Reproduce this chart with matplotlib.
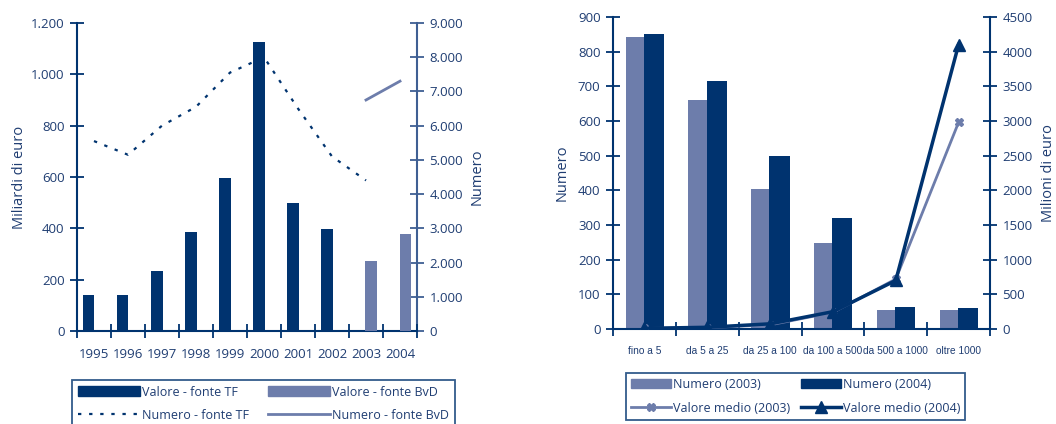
import matplotlib
matplotlib.use("Agg")
import matplotlib.pyplot as plt
from matplotlib import font_manager
from matplotlib.ticker import FuncFormatter, FixedLocator

# --- dati grafico di sinistra ---
anni = ["1995", "1996", "1997", "1998", "1999", "2000", "2001", "2002", "2003", "2004"]
valore_tf = [140, 139, 234, 387, 596, 1126, 498, 397, None, None]
valore_bvd = [None, None, None, None, None, None, None, None, 273, 378]
numero_tf = [5550, 5150, 6000, 6550, 7550, 8000, 6500, 5100, 4400, None]
numero_bvd = [None, None, None, None, None, None, None, None, 6750, 7300]

# --- dati grafico di destra ---
classi = ["fino a 5", "da 5 a 25", "da 25 a 100", "da 100 a 500", "da 500 a 1000", "oltre 1000"]
numero_2003 = [842, 660, 404, 248, 54, 56]
numero_2004 = [850, 716, 498, 320, 64, 60]
medio_2003 = [8, 20, 60, 240, 720, 2980]
medio_2004 = [10, 25, 75, 250, 700, 4100]

SCURO = "#00336F"
CHIARO = "#6D7DAB"
TESTO = "#1F3D72"

plt.rcParams["font.family"] = ["Open Sans", "DejaVu Sans"]
plt.rcParams["font.size"] = 9.5
plt.rcParams["text.color"] = TESTO
plt.rcParams["axes.labelcolor"] = TESTO
plt.rcParams["xtick.color"] = SCURO
plt.rcParams["ytick.color"] = SCURO
plt.rcParams["xtick.labelcolor"] = TESTO
plt.rcParams["ytick.labelcolor"] = TESTO

# etichette strette per le classi (se c'e' un font "narrow")
nomi = {f.name for f in font_manager.fontManager.ttflist}
if "Liberation Sans Narrow" in nomi:
    font_classi, size_classi = "Liberation Sans Narrow", 8.5
else:
    font_classi, size_classi = "Liberation Sans", 7.3

DASH = (0, (1.5, 3.5))


def punti(v):
    return f"{int(v):,}".replace(",", ".")


def assi_stile(ax, ax2, col_dx):
    for a in (ax, ax2):
        a.spines["top"].set_visible(False)
    ax.spines["right"].set_visible(False)
    ax2.spines["left"].set_visible(False)
    ax2.spines["bottom"].set_visible(False)
    ax.spines["left"].set_color(SCURO)
    ax.spines["bottom"].set_color(SCURO)
    ax2.spines["right"].set_color(col_dx)
    for s in ("left", "bottom"):
        ax.spines[s].set_linewidth(1.5)
    ax2.spines["right"].set_linewidth(1.5)
    ax.tick_params(axis="both", which="major", direction="inout", length=10, width=1.3)
    ax2.tick_params(axis="y", direction="inout", length=10, width=1.3, color=col_dx)


fig = plt.figure(figsize=(10.56, 4.24), dpi=100)

# ---------- grafico di sinistra ----------
ax = fig.add_axes([0.0729, 0.2193, 0.3220, 0.7265])
ax2 = ax.twinx()
ax.set_zorder(ax2.get_zorder() + 1)
ax.patch.set_visible(False)

x = list(range(len(anni)))
w = 0.33
for i in x:
    if valore_tf[i] is not None:
        ax.bar(i - 0.15, valore_tf[i], w, color=SCURO, zorder=3)
    if valore_bvd[i] is not None:
        ax.bar(i + 0.15, valore_bvd[i], w, color=CHIARO, zorder=3)

xt = [i for i in x if numero_tf[i] is not None]
ax2.plot(xt, [numero_tf[i] for i in xt], color=SCURO, lw=1.6, linestyle=DASH)
xb = [i for i in x if numero_bvd[i] is not None]
ax2.plot(xb, [numero_bvd[i] for i in xb], color=CHIARO, lw=2)

ax.set_xlim(-0.5, len(anni) - 0.5)
ax.set_ylim(0, 1200)
ax2.set_ylim(0, 9000)
ax.set_yticks(range(0, 1201, 200))
ax2.set_yticks(range(0, 9001, 1000))
ax.yaxis.set_major_formatter(FuncFormatter(lambda v, p: punti(v)))
ax2.yaxis.set_major_formatter(FuncFormatter(lambda v, p: punti(v)))
ax.xaxis.set_major_locator(FixedLocator([i - 0.5 for i in range(len(anni) + 1)]))
ax.xaxis.set_major_formatter(FuncFormatter(lambda v, p: ""))
ax.set_xticks(x, anni, minor=True)
ax.tick_params(axis="x", which="minor", length=0, pad=12)
ax.tick_params(axis="y", pad=4)
ax2.tick_params(axis="y", pad=4)
ax.set_ylabel("Miliardi di euro", fontsize=10.5, labelpad=3)
ax2.set_ylabel("Numero", fontsize=10.5, labelpad=5)
assi_stile(ax, ax2, "#3F5F93")

h1 = plt.Rectangle((0, 0), 1, 1, color=SCURO)
h2 = plt.Rectangle((0, 0), 1, 1, color=CHIARO)
l1, = ax.plot([], [], color=SCURO, lw=1.6, linestyle=DASH)
l2, = ax.plot([], [], color=CHIARO, lw=2)
leg = fig.legend([h1, l1, h2, l2],
                 ["Valore - fonte TF", "Numero - fonte TF", "Valore - fonte BvD", "Numero - fonte BvD"],
                 ncol=2, loc="upper left", bbox_to_anchor=(0.0682, 0.1038),
                 borderaxespad=0, fancybox=False, frameon=True,
                 handlelength=5.0, handleheight=0.8, handletextpad=0.15, labelspacing=0.8,
                 columnspacing=1.5, borderpad=0.45, fontsize=9)
leg.get_frame().set_edgecolor(SCURO)
leg.get_frame().set_linewidth(1.3)

# ---------- grafico di destra ----------
bx = fig.add_axes([0.5805, 0.224, 0.3570, 0.736])
bx2 = bx.twinx()
bx2.set_zorder(bx.get_zorder() + 1)
bx2.patch.set_visible(False)

c = list(range(len(classi)))
bx.bar([i - 0.15 for i in c], numero_2003, 0.30, color=CHIARO, zorder=2)
bx.bar([i + 0.15 for i in c], numero_2004, 0.32, color=SCURO, zorder=3)
bx2.plot(c, medio_2003, color=CHIARO, lw=2, marker="X", markersize=6)
bx2.plot(c, medio_2004, color=SCURO, lw=2.5, marker="^", markersize=8)

bx.set_xlim(-0.5, len(classi) - 0.5)
bx.set_ylim(0, 900)
bx2.set_ylim(0, 4500)
bx.set_yticks(range(0, 901, 100))
bx2.set_yticks(range(0, 4501, 500))
bx.xaxis.set_major_locator(FixedLocator([i - 0.5 for i in range(len(classi) + 1)]))
bx.xaxis.set_major_formatter(FuncFormatter(lambda v, p: ""))
bx.set_xticks(c, classi, minor=True)
for t in bx.get_xticklabels(minor=True):
    t.set_fontfamily(font_classi)
    t.set_fontsize(size_classi)
bx.tick_params(axis="x", which="minor", length=0, pad=12)
bx.tick_params(axis="y", pad=4)
bx2.tick_params(axis="y", pad=4)
bx.set_ylabel("Numero", fontsize=10.5, labelpad=6)
bx2.set_ylabel("Milioni di euro", fontsize=10.5, labelpad=6)
assi_stile(bx, bx2, SCURO)

r1, = bx.plot([], [], color=CHIARO, lw=2, marker="X", markersize=6)
r2, = bx.plot([], [], color=SCURO, lw=2.5, marker="^", markersize=8)
leg2 = fig.legend([h2, r1, h1, r2],
                  ["Numero (2003)", "Valore medio (2003)", "Numero (2004)", "Valore medio (2004)"],
                  ncol=2, loc="upper left", bbox_to_anchor=(0.5928, 0.1203),
                  borderaxespad=0, fancybox=False, frameon=True,
                  handlelength=3.2, handleheight=0.8, handletextpad=0.15, labelspacing=0.85,
                  columnspacing=0.9, borderpad=0.4, fontsize=9)
leg2.get_frame().set_edgecolor(SCURO)
leg2.get_frame().set_linewidth(1.3)

fig.savefig("out.png", dpi=100)
